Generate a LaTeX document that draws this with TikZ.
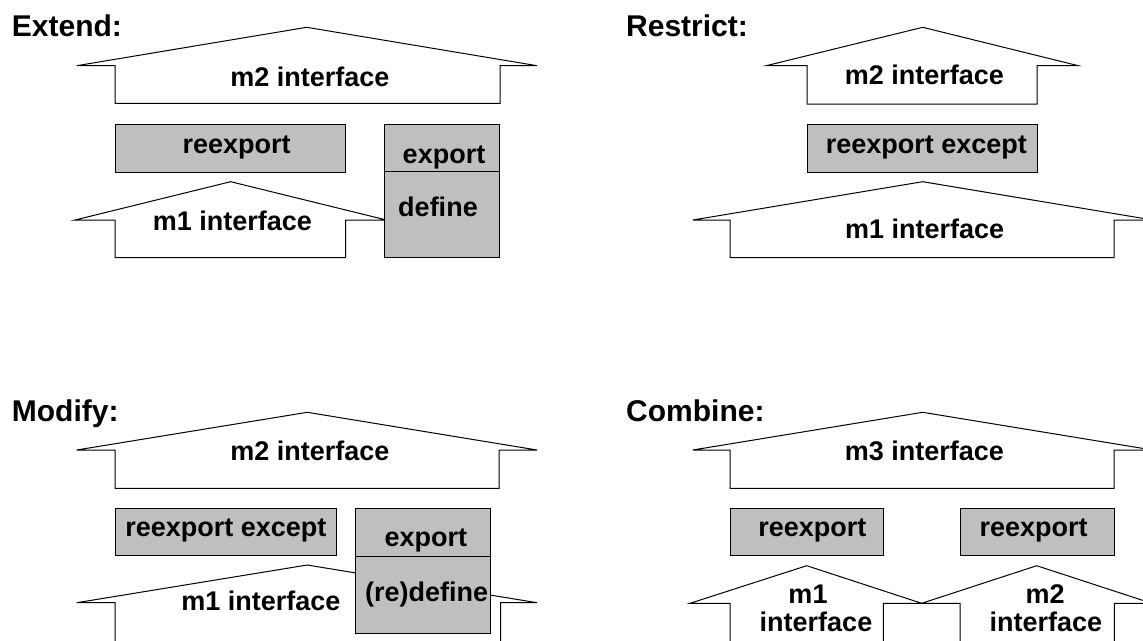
\documentclass[tikz,border=0pt]{standalone}
\usepackage{fontspec}
\setmainfont{Liberation Sans}
\definecolor{boxgray}{gray}{0.75}
\tikzset{
  shapeline/.style={draw=black, line width=1pt, fill=white, line join=miter},
  gbox/.style={draw=black, line width=1pt, fill=boxgray, inner sep=0pt, rectangle},
  lbl/.style={anchor=base, inner sep=0pt, font=\fontsize{27}{30}\selectfont\bfseries},
  ttl/.style={anchor=base west, inner sep=0pt, font=\fontsize{30}{33}\selectfont\bfseries},
}
% #1 left tip x, #2 left body x, #3 apex x, #4 right body x, #5 right tip x,
% #6 apex y, #7 shoulder y, #8 bottom y
\newcommand{\hsarrow}[8]{%
  \path[shapeline] (#1,#7) -- (#3,#6) -- (#5,#7) -- (#4,#7) -- (#4,#8) -- (#2,#8) -- (#2,#7) -- cycle;}
\begin{document}
\begin{tikzpicture}[x=1pt,y=-1pt]
\clip (0,0) rectangle (1143,640);
\fill[white] (0,0) rectangle (1143,640);

% ---------- Extend ----------
\node[ttl] (tExtend) at (11.7,36.7) {Extend:};
\hsarrow{76.7}{115}{306.7}{500}{537}{27.3}{65.7}{103.3}
\hsarrow{75}{115}{230.7}{345.7}{386.4}{181.7}{220}{257.7}
\node[gbox, minimum width=230.7pt, minimum height=48.3pt] (eReexp) at (230.35,148.15) {};
\node[gbox, minimum width=115pt, minimum height=47.7pt] (eExport) at (441.8,147.85) {};
\node[gbox, minimum width=115pt, minimum height=86pt] (eDefine) at (441.8,214.7) {};
\node[lbl] (eM2) at (310,86.7) {m2 interface};
\node[lbl] (eReexpT) at (236.7,153.3) {reexport};
\node[lbl] (eExportT) at (444,163.3) {export};
\node[lbl] (eDefineT) at (438,216.7) {define};
\node[lbl] (eM1) at (232.5,230) {m1 interface};

% ---------- Restrict ----------
\node[ttl] (tRestrict) at (626,36.7) {Restrict:};
\hsarrow{766.2}{807}{922.7}{1037}{1078.3}{27.3}{65.7}{104}
\hsarrow{692.8}{730}{922.7}{1114.2}{1152.6}{181.7}{220}{257.7}
\node[gbox, minimum width=230pt, minimum height=48.3pt] (rReexp) at (922,148.15) {};
\node[lbl] (rM2) at (924.3,84) {m2 interface};
\node[lbl] (rReexpT) at (926.3,153.3) {reexport except};
\node[lbl] (rM1) at (924.6,238.3) {m1 interface};

% ---------- Modify ----------
\node[ttl] (tModify) at (11.7,421.7) {Modify:};
\hsarrow{76.7}{115}{307.3}{499}{537}{412.3}{450}{488.3}
\hsarrow{76.7}{115}{307.3}{500.7}{537}{565}{602.7}{660}
\node[gbox, minimum width=221.7pt, minimum height=47.4pt] (mReexp) at (225.85,532) {};
\node[gbox, minimum width=134.3pt, minimum height=48.4pt] (mExport) at (422.85,532.5) {};
\node[gbox, minimum width=134.3pt, minimum height=76.6pt] (mDefine) at (422.85,595) {};
\node[lbl] (mM2) at (310,460) {m2 interface};
\node[lbl] (mReexpT) at (225.8,536.7) {reexport except};
\node[lbl] (mExportT) at (425.8,546.7) {export};
\node[lbl] (mDefineT) at (426.7,601.7) {(re)define};
\node[lbl] (mM1) at (260.8,610) {m1 interface};

% ---------- Combine ----------
\node[ttl] (tCombine) at (626,421.7) {Combine:};
\hsarrow{692.8}{730}{922.7}{1114.2}{1152.6}{412.3}{450}{488.3}
\hsarrow{690}{730}{806.7}{883.3}{921.7}{565.7}{603.3}{660}
\hsarrow{921.7}{960}{1036.7}{1114.3}{1151.7}{565.7}{603.3}{660}
\node[gbox, minimum width=153.3pt, minimum height=47.4pt] (cReexpA) at (806.65,532) {};
\node[gbox, minimum width=154.3pt, minimum height=47.4pt] (cReexpB) at (1037.15,532) {};
\node[lbl] (cM3) at (924.3,460) {m3 interface};
\node[lbl] (cReexpAT) at (812.3,536.7) {reexport};
\node[lbl] (cReexpBT) at (1033.7,536.7) {reexport};
\node[lbl] (cM1a) at (808,603.3) {m1};
\node[lbl] (cM1b) at (816,631.7) {interface};
\node[lbl] (cM2a) at (1045,603.3) {m2};
\node[lbl] (cM2b) at (1045.8,631.7) {interface};
\end{tikzpicture}
\end{document}
